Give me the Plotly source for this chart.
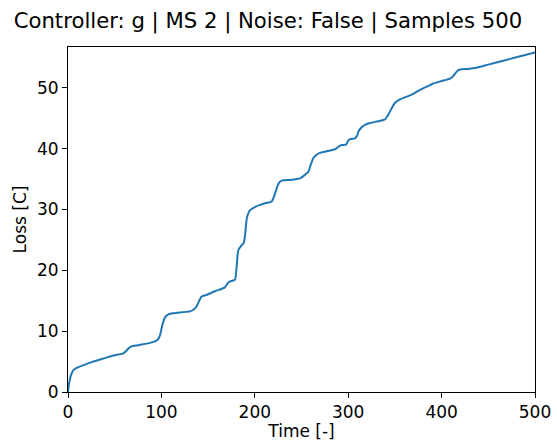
import plotly.graph_objects as go

time = [0, 1, 2.5, 4, 5.7, 10, 18, 27, 38, 48.5, 58.5, 62, 65, 68, 75, 91, 96, 98.5, 101, 104, 108, 113,
        122, 130.6, 135, 137.8, 140.5, 143, 148, 158, 168, 171.6, 175, 178.8, 180.5, 182.3, 185.9, 188.4,
        190, 191.5, 194.9, 200, 205.6, 212, 218, 221, 223.3, 226, 228.7, 238, 248.4, 253, 257.3, 260, 262.6,
        266, 269.8, 278, 285.9, 290.5, 293, 297.6, 300, 302, 307.3, 309.5, 311, 314.4, 318, 323.3, 332, 339.4,
        343, 346.5, 350, 355.5, 362, 369.6, 375, 380.3, 386, 391, 400, 409, 412, 414.3, 417, 419.7, 428,
        437.5, 450, 465, 480, 500]
loss = [0, 1.3, 2.4, 3.1, 3.6, 4.0, 4.5, 5.0, 5.5, 6.0, 6.3, 6.7, 7.2, 7.5, 7.7, 8.2, 8.6, 9.3, 11.0, 12.3,
        12.8, 12.95, 13.1, 13.25, 13.6, 14.1, 15.0, 15.7, 15.95, 16.6, 17.2, 18.0, 18.25, 18.45, 20.5, 23.3,
        24.1, 24.6, 26.5, 28.6, 29.9, 30.4, 30.75, 31.05, 31.3, 32.3, 33.4, 34.4, 34.75, 34.85, 35.1, 35.6,
        36.2, 37.4, 38.4, 39.0, 39.3, 39.6, 39.9, 40.4, 40.6, 40.65, 41.3, 41.55, 41.7, 42.1, 42.8, 43.5,
        43.9, 44.2, 44.5, 44.8, 45.6, 46.6, 47.5, 48.1, 48.5, 49.0, 49.5, 49.9, 50.3, 50.7, 51.1, 51.5, 51.85,
        52.3, 52.8, 53.0, 53.1, 53.3, 53.8, 54.4, 55.0, 55.8]

title_text = "Controller: g | MS 2 | Noise: False | Samples 500"
x_ticks = [0, 100, 200, 300, 400, 500]
y_ticks = [0, 10, 20, 30, 40, 50]

fig = go.Figure()
fig.add_trace(go.Scatter(x=time, y=loss, mode="lines",
                         line=dict(color="#1f77b4", width=2, shape="spline", smoothing=0.5)))

font = "DejaVu Sans"
fig.update_layout(
    width=557, height=441,
    margin=dict(l=68, r=22, t=47, b=49, autoexpand=False),
    paper_bgcolor="white", plot_bgcolor="white",
    showlegend=False,
    title=dict(text=title_text, x=0.481, xanchor="center", y=0.953, yanchor="middle",
               font=dict(family=font, size=21.2, color="black")),
    font=dict(family=font, size=17, color="black"),
)
axis_common = dict(showgrid=False, zeroline=False, showline=True, linecolor="black", linewidth=1,
                   mirror=True, ticks="outside", ticklen=5, tickwidth=1, tickcolor="black",
                   automargin=False,
                   tickfont=dict(family=font, size=17, color="black"))
fig.update_xaxes(range=[0, 500], tickvals=x_ticks, title=dict(text="Time [-]", standoff=4,
                 font=dict(family=font, size=17)), **axis_common)
fig.update_yaxes(range=[0, 56.7], tickvals=y_ticks, title=dict(text="Loss [C]", standoff=6,
                 font=dict(family=font, size=17)), **axis_common)

fig.write_html("out.html")
